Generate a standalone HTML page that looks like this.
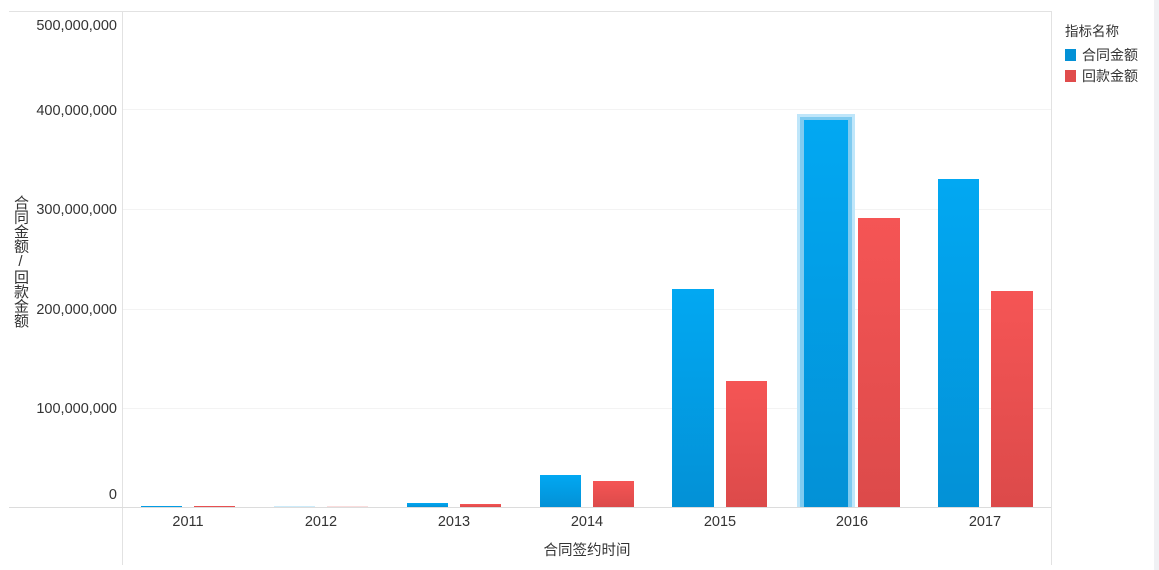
<!DOCTYPE html>
<html><head><meta charset="utf-8"><style>
html,body{margin:0;padding:0;background:#fff;width:1159px;height:570px;overflow:hidden;font-family:"Liberation Sans","Noto Sans CJK SC",sans-serif;}
svg text{font-family:"Liberation Sans","Noto Sans CJK SC",sans-serif;}
.yt{position:absolute;left:11px;top:195px;writing-mode:vertical-rl;text-orientation:upright;font-size:15px;color:#333;line-height:18px;letter-spacing:-0.5px}
</style></head><body>
<svg width="1159" height="570" xmlns="http://www.w3.org/2000/svg" style="position:absolute;left:0;top:0">
<defs>
<linearGradient id="b" x1="0" y1="0" x2="0" y2="1"><stop offset="0" stop-color="#02a8f2"/><stop offset="1" stop-color="#0391d6"/></linearGradient>
<linearGradient id="r" x1="0" y1="0" x2="0" y2="1"><stop offset="0" stop-color="#f55555"/><stop offset="1" stop-color="#dc4a4a"/></linearGradient>
</defs>
<rect x="1154" y="0" width="5" height="570" fill="#f0f1f4"/>
<line x1="9" y1="11.5" x2="1051" y2="11.5" stroke="#e2e2e2"/>
<line x1="122.5" y1="11" x2="122.5" y2="565" stroke="#e2e2e2"/>
<line x1="1051.5" y1="11" x2="1051.5" y2="565" stroke="#e2e2e2"/>
<g stroke="#f3f3f3">
<line x1="123" y1="109.5" x2="1051" y2="109.5"/>
<line x1="123" y1="209.5" x2="1051" y2="209.5"/>
<line x1="123" y1="309.5" x2="1051" y2="309.5"/>
<line x1="123" y1="408.5" x2="1051" y2="408.5"/>
</g>
<line x1="9" y1="507.5" x2="1051" y2="507.5" stroke="#dcdcdc"/>
<g font-size="14.5" fill="#333" text-anchor="end">
<text x="117" y="30">500,000,000</text>
<text x="117" y="115">400,000,000</text>
<text x="117" y="214">300,000,000</text>
<text x="117" y="314">200,000,000</text>
<text x="117" y="413">100,000,000</text>
<text x="117" y="499">0</text>
</g>
<rect x="797" y="114" width="58" height="393" fill="#bfe6fa"/>
<rect x="800" y="117" width="52" height="390" fill="#7fcbf0"/>
<g fill="url(#b)">
<rect x="141" y="506" width="41" height="1"/>
<rect x="274" y="506.5" width="41" height="0.5" opacity="0.4"/>
<rect x="407" y="503" width="41" height="4"/>
<rect x="540" y="475" width="41" height="32"/>
<rect x="672" y="289" width="42" height="218"/>
<rect x="804" y="120" width="44" height="387"/>
<rect x="938" y="179" width="41" height="328"/>
</g>
<g fill="url(#r)">
<rect x="194" y="506" width="41" height="1"/>
<rect x="327" y="506.5" width="41" height="0.5" opacity="0.4"/>
<rect x="460" y="504" width="41" height="3"/>
<rect x="593" y="481" width="41" height="26"/>
<rect x="726" y="381" width="41" height="126"/>
<rect x="858" y="218" width="42" height="289"/>
<rect x="991" y="291" width="42" height="216"/>
</g>
<g font-size="14.5" fill="#333" text-anchor="middle">
<text x="188" y="526">2011</text>
<text x="321" y="526">2012</text>
<text x="454" y="526">2013</text>
<text x="587" y="526">2014</text>
<text x="720" y="526">2015</text>
<text x="852" y="526">2016</text>
<text x="985" y="526">2017</text>
<text x="587" y="555">合同签约时间</text>
</g>
<text x="1065" y="36" font-size="13.5" fill="#333">指标名称</text>
<rect x="1065" y="49" width="11" height="12" fill="#0391d6"/>
<text x="1082" y="60" font-size="14" fill="#333">合同金额</text>
<rect x="1065" y="70" width="11" height="12" fill="#e04c4c"/>
<text x="1082" y="81" font-size="14" fill="#333">回款金额</text>
</svg>
<div class="yt">合同金额/回款金额</div>
</body></html>
